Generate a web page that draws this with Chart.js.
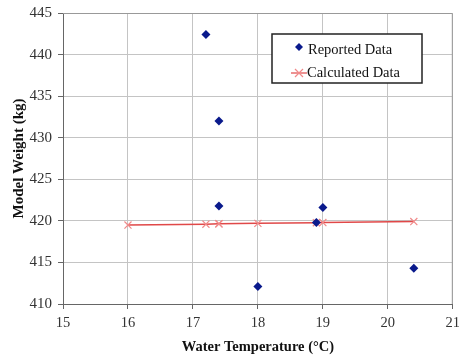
<!DOCTYPE html>
<html>
<head>
<meta charset="utf-8">
<script src="https://cdn.jsdelivr.net/npm/chart.js@4.4.0/dist/chart.umd.min.js"></script>
<style>
  html, body { margin: 0; padding: 0; background: #fff; }
  #wrap { width: 459px; height: 356px; }
</style>
</head>
<body>
<div id="wrap"><canvas id="grafico" width="459" height="356"></canvas></div>
<script>
// Reported Data (water temperature, model weight)
const reportedTemp = [17.2, 17.4, 17.4, 18.0, 18.9, 19.0, 20.4];
const reportedWeight = [442.4, 432.0, 421.8, 412.1, 419.8, 421.6, 414.3];

// Calculated Data
const calcTemp = [16.0, 17.2, 17.4, 17.4, 18.0, 18.9, 19.0, 20.4];
const calcWeight = [419.5, 419.6, 419.65, 419.65, 419.7, 419.78, 419.8, 419.92];

const xTitle = 'Water Temperature (°C)';
const yTitle = 'Model Weight (kg)';

const serif = "'Liberation Serif', 'Times New Roman', serif";

const toPoints = (xs, ys) => xs.map((x, i) => ({ x: x, y: ys[i] }));

// Legend box inside the plot, Excel style
const legendBox = {
  id: 'legendBox',
  afterDraw(chart) {
    const ctx = chart.ctx;
    const x = 272, y = 34, w = 150, h = 49;
    ctx.save();
    ctx.fillStyle = '#fff';
    ctx.fillRect(x, y, w, h);
    ctx.strokeStyle = '#222';
    ctx.lineWidth = 1.5;
    ctx.strokeRect(x, y, w, h);

    // diamond
    ctx.fillStyle = '#0a1a8c';
    ctx.beginPath();
    ctx.moveTo(299, 43); ctx.lineTo(303, 47); ctx.lineTo(299, 51); ctx.lineTo(295, 47);
    ctx.closePath(); ctx.fill();

    // line + cross
    ctx.strokeStyle = '#e04848';
    ctx.lineWidth = 1.2;
    ctx.beginPath(); ctx.moveTo(291, 73); ctx.lineTo(307, 73); ctx.stroke();
    ctx.strokeStyle = '#f08a8a';
    ctx.beginPath();
    ctx.moveTo(295, 69); ctx.lineTo(303, 77);
    ctx.moveTo(303, 69); ctx.lineTo(295, 77);
    ctx.stroke();

    ctx.fillStyle = '#111';
    ctx.font = '14.5px ' + serif;
    ctx.textBaseline = 'middle';
    ctx.fillText(chart.data.datasets[0].label, 308, 50);
    ctx.fillText(chart.data.datasets[1].label, 307, 73);
    ctx.restore();
  }
};

const ctx = document.getElementById('grafico').getContext('2d');
new Chart(ctx, {
  type: 'scatter',
  data: {
    datasets: [{
      label: 'Reported Data',
      data: toPoints(reportedTemp, reportedWeight),
      pointStyle: 'rectRot',
      pointRadius: 4.5,
      backgroundColor: '#0a1a8c',
      borderColor: '#0a1a8c',
      borderWidth: 0,
      showLine: false,
      order: 1
    }, {
      label: 'Calculated Data',
      data: toPoints(calcTemp, calcWeight),
      showLine: true,
      borderColor: '#e04848',
      borderWidth: 1.5,
      pointStyle: 'crossRot',
      pointRadius: 5,
      pointBorderColor: '#f08a8a',
      pointBorderWidth: 1.2,
      backgroundColor: '#f08a8a',
      order: 2
    }]
  },
  options: {
    responsive: false,
    animation: false,
    layout: { padding: 0 },
    plugins: {
      legend: { display: false },
      tooltip: { enabled: false }
    },
    scales: {
      x: {
        type: 'linear',
        min: 15, max: 21,
        afterFit: s => { s.height = 52; s.paddingRight = 4; },
        ticks: {
          stepSize: 1,
          color: '#333',
          padding: 5,
          font: { family: serif, size: 14.5 }
        },
        grid: { color: '#c4c4c4', tickLength: 5, tickColor: '#666' },
        border: { color: '#666', width: 1 },
        title: {
          display: true,
          text: xTitle,
          color: '#111',
          padding: { top: 0, bottom: 0 },
          font: { family: serif, size: 14.5, weight: 'bold' }
        }
      },
      y: {
        min: 410, max: 445,
        afterFit: s => { s.width = 63; s.paddingTop = 13; },
        ticks: {
          stepSize: 5,
          color: '#333',
          padding: 6,
          font: { family: serif, size: 15 }
        },
        grid: { color: '#c4c4c4', tickLength: 5, tickColor: '#666' },
        border: { color: '#666', width: 1 },
        title: {
          display: true,
          text: yTitle,
          color: '#111',
          padding: { top: 10, bottom: 0 },
          font: { family: serif, size: 15, weight: 'bold' }
        }
      }
    }
  },
  plugins: [legendBox, {
    id: 'frame',
    afterDraw(chart) {
      const a = chart.chartArea, c = chart.ctx;
      c.save();
      c.strokeStyle = '#999';
      c.lineWidth = 1;
      c.beginPath();
      c.moveTo(a.left, a.top + 0.5); c.lineTo(a.right - 0.5, a.top + 0.5); c.lineTo(a.right - 0.5, a.bottom);
      c.stroke();
      c.restore();
    }
  }]
});
</script>
</body>
</html>
